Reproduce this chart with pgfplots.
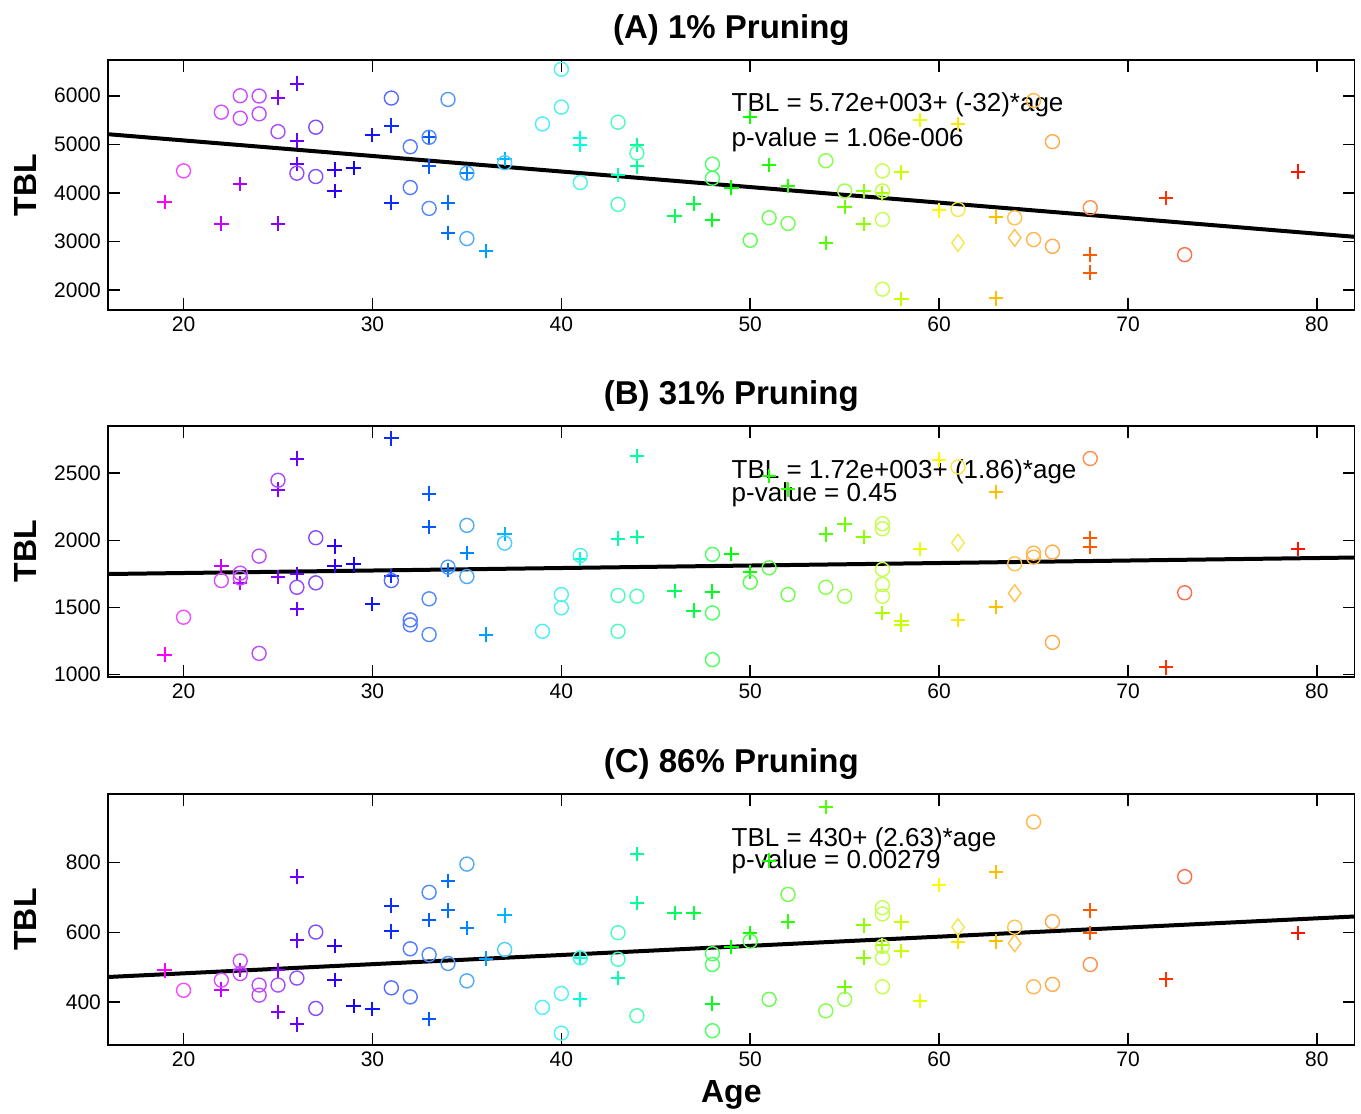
\documentclass[border=0pt]{standalone}
\usepackage{fontspec}
\setmainfont{Liberation Sans}
\usepackage{pgfplots}
\pgfplotsset{compat=1.18}
\tikzset{eq/.style={anchor=west, font=\fontsize{13}{15}\selectfont, inner sep=0pt}}
\definecolor{a19}{RGB}{255,0,255}\definecolor{a22}{RGB}{198,0,255}\definecolor{a23}{RGB}{179,0,255}
\definecolor{a25}{RGB}{132,0,255}\definecolor{a26}{RGB}{104,0,255}\definecolor{a28}{RGB}{48,0,255}
\definecolor{a29}{RGB}{20,0,255}\definecolor{a30}{RGB}{16,22,255}\definecolor{a31}{RGB}{12,44,255}
\definecolor{a33}{RGB}{4,88,255}\definecolor{a34}{RGB}{0,110,255}\definecolor{a35}{RGB}{0,134,255}
\definecolor{a36}{RGB}{0,158,255}\definecolor{a37}{RGB}{0,182,255}\definecolor{a41}{RGB}{0,255,220}
\definecolor{a43}{RGB}{0,255,175}\definecolor{a44}{RGB}{0,255,150}\definecolor{a46}{RGB}{0,255,90}
\definecolor{a47}{RGB}{0,255,60}\definecolor{a48}{RGB}{0,255,30}\definecolor{a49}{RGB}{0,255,0}
\definecolor{a50}{RGB}{16,255,0}\definecolor{a51}{RGB}{32,255,0}\definecolor{a52}{RGB}{48,255,0}
\definecolor{a54}{RGB}{80,255,0}\definecolor{a55}{RGB}{110,255,0}\definecolor{a56}{RGB}{140,255,0}
\definecolor{a57}{RGB}{170,255,0}\definecolor{a58}{RGB}{200,255,0}\definecolor{a59}{RGB}{230,255,0}
\definecolor{a60}{RGB}{255,250,0}\definecolor{a61}{RGB}{255,230,0}\definecolor{a63}{RGB}{255,190,0}
\definecolor{a68}{RGB}{255,90,0}\definecolor{a72}{RGB}{255,50,0}\definecolor{a79}{RGB}{255,20,0}
\newcommand\PL[2]{\addplot[only marks, mark=+, mark size=3.6pt, mark options={line width=1pt}, color=a#1] coordinates {#2};}
\pgfplotsset{
  % uniform: ages 19,24,29,...,79
  colormap={agemap}{rgb255=(255,0,255) rgb255=(160,0,255) rgb255=(20,0,255)
    rgb255=(0,110,255) rgb255=(0,230,255) rgb255=(0,255,150) rgb255=(0,255,0)
    rgb255=(80,255,0) rgb255=(230,255,0) rgb255=(255,170,0) rgb255=(255,80,0)
    rgb255=(255,40,0) rgb255=(255,20,0)},
  panel/.style={
    scale only axis, width=623.35pt, xmin=16, xmax=82, xtick={20,30,40,50,60,70,80},
    tick align=inside, xtick pos=both, ytick pos=both, xticklabel pos=lower, yticklabel pos=left,
    major tick length=6pt,
    axis line style={line width=0.8pt},
    every tick/.style={black, line width=0.8pt},
    tick label style={font=\fontsize{10.5}{12}\selectfont},
    /pgf/number format/assume math mode=true,
    /pgf/number format/set thousands separator={},
    title style={font=\bfseries\fontsize{16.5}{19}\selectfont, yshift=-2.5pt},
    ylabel={TBL},
    ylabel style={font=\bfseries\fontsize{16}{19}\selectfont, at={(axis description cs:-0.0658,0.5)}, anchor=center},
    colormap name=agemap, point meta min=19, point meta max=79,
  },
  ci/.style={scatter, only marks, mark=o, mark size=3.5pt, point meta=x,
    mark options={line width=0.7pt}, scatter/use mapped color={draw=mapped color!70!white, fill=mapped color!70!white}},
  di/.style={scatter, only marks, mark=diamond, mark size=4.2pt, point meta=x,
    mark options={line width=0.7pt}, scatter/use mapped color={draw=mapped color!70!white, fill=mapped color!70!white}},
  fit/.style={black, line width=2pt, no markers},
}
\begin{document}
\begin{tikzpicture}
\useasboundingbox (0,0) rectangle (680.5pt,-557pt);
% ---------------- (A)
\begin{axis}[panel, at={(54pt,-155pt)}, anchor=south west, height=125pt,
  ymin=1590, ymax=6735, ytick={2000,3000,4000,5000,6000}, title={(A) 1\% Pruning}]
\PL{19}{(19,3810)} \PL{22}{(22,3370)} \PL{23}{(23,4180)} \PL{25}{(25,5960) (25,3370)}
\PL{26}{(26,6250) (26,5075) (26,4590)} \PL{28}{(28,4480) (28,4040)} \PL{29}{(29,4510)}
\PL{30}{(30,5190)} \PL{31}{(31,5385) (31,3800)} \PL{33}{(33,5145) (33,4545)} \PL{34}{(34,3800) (34,3180)}
\PL{35}{(35,4406)} \PL{36}{(36,2800)} \PL{37}{(37,4700)} \PL{41}{(41,5130) (41,4980)} \PL{43}{(43,4370)}
\PL{44}{(44,4990) (44,4545)} \PL{46}{(46,3520)} \PL{47}{(47,3780)} \PL{48}{(48,3440)} \PL{49}{(49,4110)}
\PL{50}{(50,5560)} \PL{51}{(51,4570)} \PL{52}{(52,4140)} \PL{54}{(54,2970)} \PL{55}{(55,3710)}
\PL{56}{(56,4040) (56,3365)} \PL{57}{(57,3990)} \PL{58}{(58,4420) (58,1820)} \PL{59}{(59,5500)}
\PL{60}{(60,3640)} \PL{61}{(61,5420)} \PL{63}{(63,3510) (63,1830)} \PL{68}{(68,2730) (68,2360)}
\PL{72}{(72,3890)} \PL{79}{(79,4440)}
\addplot[ci] coordinates {(20,4453) (22,5662) (23,6000) (23,5538) (24,5994) (24,5627) (25,5261) (26,4406)
 (27,5352) (27,4337) (31,5952) (32,4950) (32,4110) (33,5145) (33,3681) (34,5923) (35,4406) (35,3060)
 (37,4620) (39,5420) (40,6545) (40,5766) (41,4213) (43,5455) (43,3764) (44,4820) (48,4592) (48,4302)
 (50,3025) (51,3488) (52,3371) (54,4661) (55,4040) (57,4453) (57,4040) (57,3453) (57,2019) (61,3660)
 (64,3488) (65,3040) (65,5900) (66,5054) (66,2901) (68,3696) (73,2729)};
\addplot[di] coordinates {(61,2971) (64,3075)};
\addplot[fit] coordinates {(16,5208) (82,3096)};
\node[eq] at (axis cs:49,5809) {TBL = 5.72e+003+ (-32)*age};
\node[eq] at (axis cs:49,5088) {p-value = 1.06e-006};
\end{axis}
% ---------------- (B)
\begin{axis}[panel, at={(54pt,-338.35pt)}, anchor=south west, height=125.35pt,
  ymin=985, ymax=2852, ytick={1000,1500,2000,2500}, title={(B) 31\% Pruning}]
\PL{19}{(19,1149)} \PL{22}{(22,1808)} \PL{23}{(23,1681)} \PL{25}{(25,2378) (25,1726)}
\PL{26}{(26,2610) (26,1751) (26,1490)} \PL{28}{(28,1955) (28,1808)} \PL{29}{(29,1821)}
\PL{30}{(30,1528)} \PL{31}{(31,2759) (31,1734)} \PL{33}{(33,2348) (33,2099)} \PL{34}{(34,1780)}
\PL{35}{(35,1905)} \PL{36}{(36,1299)} \PL{37}{(37,2050)} \PL{41}{(41,1860)} \PL{43}{(43,2013)}
\PL{44}{(44,2627) (44,2025)} \PL{46}{(46,1622)} \PL{47}{(47,1478)} \PL{48}{(48,1619)} \PL{49}{(49,1901)}
\PL{50}{(50,1763)} \PL{51}{(51,2478)} \PL{52}{(52,2380)} \PL{54}{(54,2045)} \PL{55}{(55,2119)}
\PL{56}{(56,2025)} \PL{57}{(57,1460)} \PL{58}{(58,1403) (58,1373)} \PL{59}{(59,1938)}
\PL{60}{(60,2602)} \PL{61}{(61,1408)} \PL{63}{(63,2361) (63,1502)} \PL{68}{(68,2020) (68,1950)}
\PL{72}{(72,1055)} \PL{79}{(79,1938)}
\addplot[ci] coordinates {(20,1428) (22,1701) (23,1756) (23,1720) (24,1883) (24,1159) (25,2448) (26,1651)
 (27,2020) (27,1684) (31,1701) (32,1408) (32,1371) (33,1565) (33,1299) (34,1801) (35,2112) (35,1731)
 (37,1980) (39,1323) (40,1597) (40,1498) (41,1888) (43,1590) (43,1323) (44,1584) (48,1896) (48,1460)
 (48,1112) (50,1689) (51,1796) (52,1597) (54,1651) (55,1584) (57,2125) (57,2087) (57,1784) (57,1672)
 (57,1584) (61,2547) (64,1826) (65,1905) (65,1875) (66,1913) (66,1241) (68,2610) (73,1610)};
\addplot[di] coordinates {(61,1983) (64,1607)};
\addplot[fit] coordinates {(16,1749.8) (82,1872.5)};
\node[eq] at (axis cs:49,2510) {TBL = 1.72e+003+ (1.86)*age};
\node[eq] at (axis cs:49,2339) {p-value = 0.45};
\end{axis}
% ---------------- (C)
\begin{axis}[panel, at={(54pt,-522.5pt)}, anchor=south west, height=125.5pt,
  ymin=277, ymax=997, ytick={400,600,800}, title={(C) 86\% Pruning},
  xlabel={Age}, xlabel style={font=\bfseries\fontsize{16}{19}\selectfont, at={(axis description cs:0.5,-0.231)}, anchor=base}]
\PL{19}{(19,491)} \PL{22}{(22,436)} \PL{23}{(23,493)} \PL{25}{(25,491) (25,372)}
\PL{26}{(26,760) (26,577) (26,336)} \PL{28}{(28,561) (28,463)} \PL{29}{(29,389)}
\PL{30}{(30,380)} \PL{31}{(31,677) (31,603)} \PL{33}{(33,636) (33,351)} \PL{34}{(34,747) (34,663)}
\PL{35}{(35,613)} \PL{36}{(36,525)} \PL{37}{(37,649)} \PL{41}{(41,527) (41,408)} \PL{43}{(43,469)}
\PL{44}{(44,825) (44,685)} \PL{46}{(46,656)} \PL{47}{(47,656)} \PL{48}{(48,396)} \PL{49}{(49,558)}
\PL{50}{(50,598)} \PL{51}{(51,806)} \PL{52}{(52,631)} \PL{54}{(54,960)} \PL{55}{(55,444)}
\PL{56}{(56,620) (56,528)} \PL{57}{(57,563)} \PL{58}{(58,629) (58,547)} \PL{59}{(59,404)}
\PL{60}{(60,736)} \PL{61}{(61,572)} \PL{63}{(63,774) (63,574)} \PL{68}{(68,663) (68,598)}
\PL{72}{(72,465)} \PL{79}{(79,598)}
\addplot[ci] coordinates {(20,434) (22,463) (23,518) (23,482) (24,449) (24,420) (25,449) (26,469)
 (27,601) (27,382) (31,441) (32,553) (32,415) (33,715) (33,536) (34,511) (35,796) (35,461) (37,551)
 (39,385) (40,425) (40,311) (41,527) (43,599) (43,523) (44,361) (48,539) (48,508) (48,318) (50,575)
 (51,408) (52,709) (54,375) (55,408) (57,671) (57,653) (57,560) (57,527) (57,444) (64,615) (65,917)
 (65,444) (66,631) (66,451) (68,508) (73,760)};
\addplot[di] coordinates {(61,615) (64,569)};
\addplot[fit] coordinates {(16,472.1) (82,645.7)};
\node[eq] at (axis cs:49,865) {TBL = 430+ (2.63)*age};
\node[eq] at (axis cs:49,802) {p-value = 0.00279};
\end{axis}
\end{tikzpicture}
\end{document}
